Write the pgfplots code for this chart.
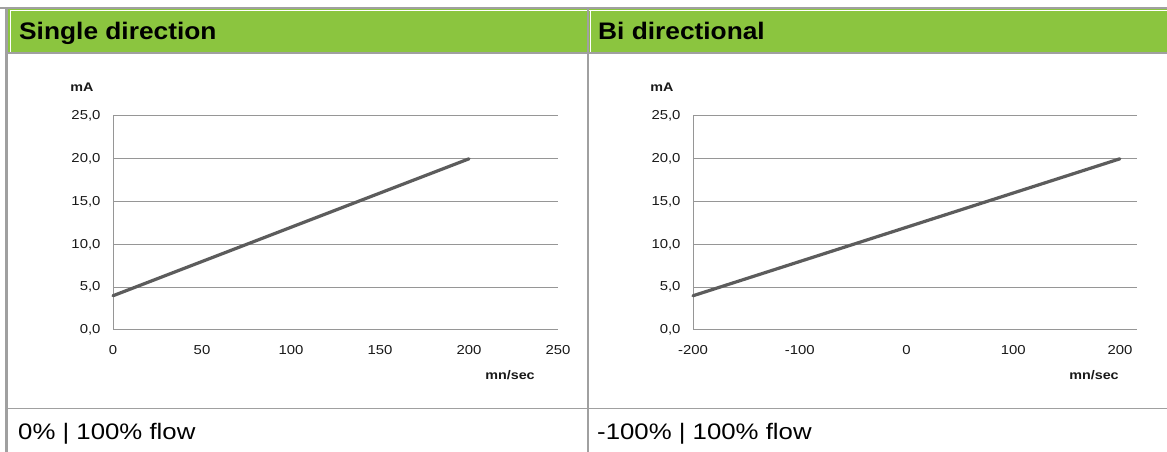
\documentclass[border=0pt]{standalone}
\usepackage{pgfplots}
\pgfplotsset{compat=1.18}
\usepackage{fontspec}
\setmainfont[FakeStretch=1.15]{Liberation Sans}
\newfontfamily\hdrfont[FakeStretch=1.1]{Liberation Sans}
\definecolor{hdrgreen}{RGB}{139,197,63}
\definecolor{bordergray}{RGB}{160,160,160}
\definecolor{gridgray}{RGB}{150,150,150}
\definecolor{linegray}{RGB}{92,92,92}
\pgfplotsset{
  chartstyle/.style={
    scale only axis,
    height=214bp,
    ymin=0, ymax=25,
    axis x line*=bottom,
    axis y line*=left,
    axis line style={draw=gridgray, line width=1bp, -},
    ymajorgrids,
    grid style={draw=gridgray, line width=1bp},
    major tick length=0pt,
    ytick={0,5,10,15,20,25},
    yticklabels={{0,0},{5,0},{10,0},{15,0},{20,0},{25,0}},
    tick label style={font=\fontsize{13}{15}\selectfont, text=black!90},
    /pgf/number format/assume math mode=true,
    xticklabel style={yshift=-12bp},
    yticklabel style={xshift=-9bp},
    clip=false,
  }
}
\begin{document}
\begin{tikzpicture}[x=1bp,y=1bp]
% canvas
\path[use as bounding box] (0,0) rectangle (1167,452);
\fill[white] (0,0) rectangle (1167,452);
% header band
\fill[hdrgreen] (8,452-53) rectangle (1167,452-9);
\draw[white, line width=1bp] (10.5,452-52) -- (10.5,452-11) -- (1167,452-11);
\draw[white, line width=1bp] (590.5,452-52) -- (590.5,452-11);
% borders
\draw[bordergray, line width=2bp] (0,452-8.5) -- (1167,452-8.5);
\draw[bordergray, line width=2bp] (8,452-53.5) -- (1167,452-53.5);
\draw[bordergray, line width=1.6bp] (8,452-408.5) -- (1167,452-408.5);
\draw[bordergray, line width=3bp] (6.5,0) -- (6.5,452-7.5);
\draw[bordergray, line width=1.6bp] (588,0) -- (588,452-8);
% header texts
\node[anchor=base west, inner sep=0pt] at (19,452-40) {\fontsize{24}{28}\selectfont\hdrfont\bfseries Single direction};
\node[anchor=base west, inner sep=0pt] at (598,452-40) {\fontsize{24}{28}\selectfont\hdrfont\bfseries Bi directional};
% footer texts
\node[anchor=base west, inner sep=0pt] at (18,452-440) {\fontsize{22.5}{26}\selectfont 0\% | 100\% flow};
\node[anchor=base west, inner sep=0pt] at (597,452-440) {\fontsize{22.5}{26}\selectfont -100\% | 100\% flow};

% left chart
\begin{axis}[chartstyle,
  at={(113bp,122bp)}, anchor=south west,
  width=445bp,
  xmin=0, xmax=250,
  xtick={0,50,100,150,200,250},
  xticklabels={0,50,100,150,200,250},
]
\addplot[linegray, line width=3.2bp, line cap=round] coordinates {(0,4) (200,20)};
\end{axis}
\node[font=\fontsize{12.5}{14}\selectfont\bfseries, text=black!90] at (82,452-87) {mA};
\node[font=\fontsize{12.5}{14}\selectfont\bfseries, text=black!90] at (510,452-375) {mn/sec};

% right chart
\begin{axis}[chartstyle,
  at={(693bp,122bp)}, anchor=south west,
  width=444bp,
  xmin=-200, xmax=216,
  xtick={-200,-100,0,100,200},
  xticklabels={-200,-100,0,100,200},
]
\addplot[linegray, line width=3.2bp, line cap=round] coordinates {(-200,4) (200,20)};
\end{axis}
\node[font=\fontsize{12.5}{14}\selectfont\bfseries, text=black!90] at (662,452-87) {mA};
\node[font=\fontsize{12.5}{14}\selectfont\bfseries, text=black!90] at (1094,452-375) {mn/sec};
\end{tikzpicture}
\end{document}
